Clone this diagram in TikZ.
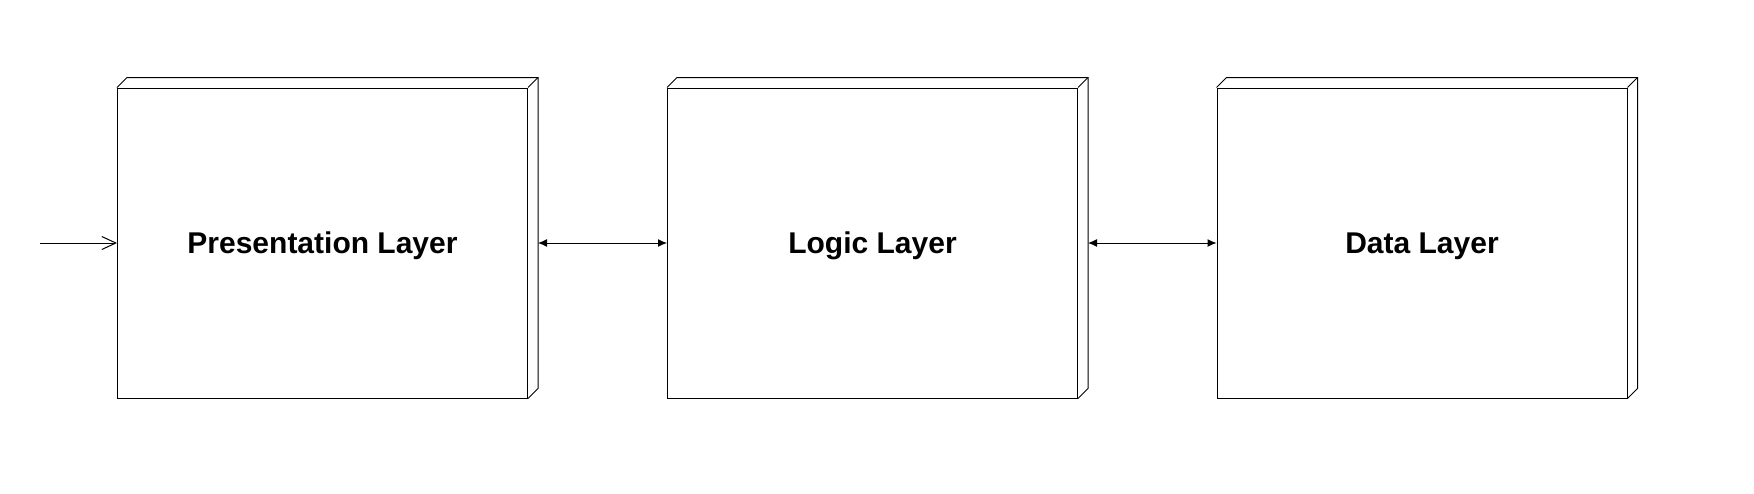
\documentclass[tikz,border=0pt]{standalone}
\usepackage{fontspec}
\setmainfont{Liberation Sans}
\usetikzlibrary{arrows.meta}
\begin{document}
\begin{tikzpicture}[x=0.5pt,y=-0.5pt,line width=0.5pt,
  layer/.style={draw, fill=white, minimum width=205pt, minimum height=155pt, inner sep=0pt,
    text depth=0pt, font=\fontsize{15}{18}\selectfont\bfseries},
  dbl/.style={{Latex[length=4.5pt,width=4pt]}-{Latex[length=4.5pt,width=4pt]}},
  inarrow/.style={-{Straight Barb[length=7pt,width=6.5pt]}}]
\useasboundingbox (0,0) rectangle (1754,493);
\node[layer] (p) at (322.5,243) {Presentation Layer};
\node[layer] (l) at (872.5,243) {Logic Layer};
\node[layer] (d) at (1422,243) {Data Layer};
\foreach \n in {p,l,d}{
  \draw (\n.north west) -- ++(10,-10) -| ([xshift=5pt,yshift=5pt]\n.south east) -- (\n.south east);
  \draw ([xshift=5pt,yshift=5pt]\n.north east) -- (\n.north east);
}
\coordinate (in) at (40,243);
\coordinate (pr) at ([xshift=5pt]p.east);
\coordinate (lr) at ([xshift=5pt]l.east);
\draw[inarrow] (in) -- (p.west);
\draw[dbl] (pr) -- (l.west);
\draw[dbl] (lr) -- (d.west);
\end{tikzpicture}
\end{document}
